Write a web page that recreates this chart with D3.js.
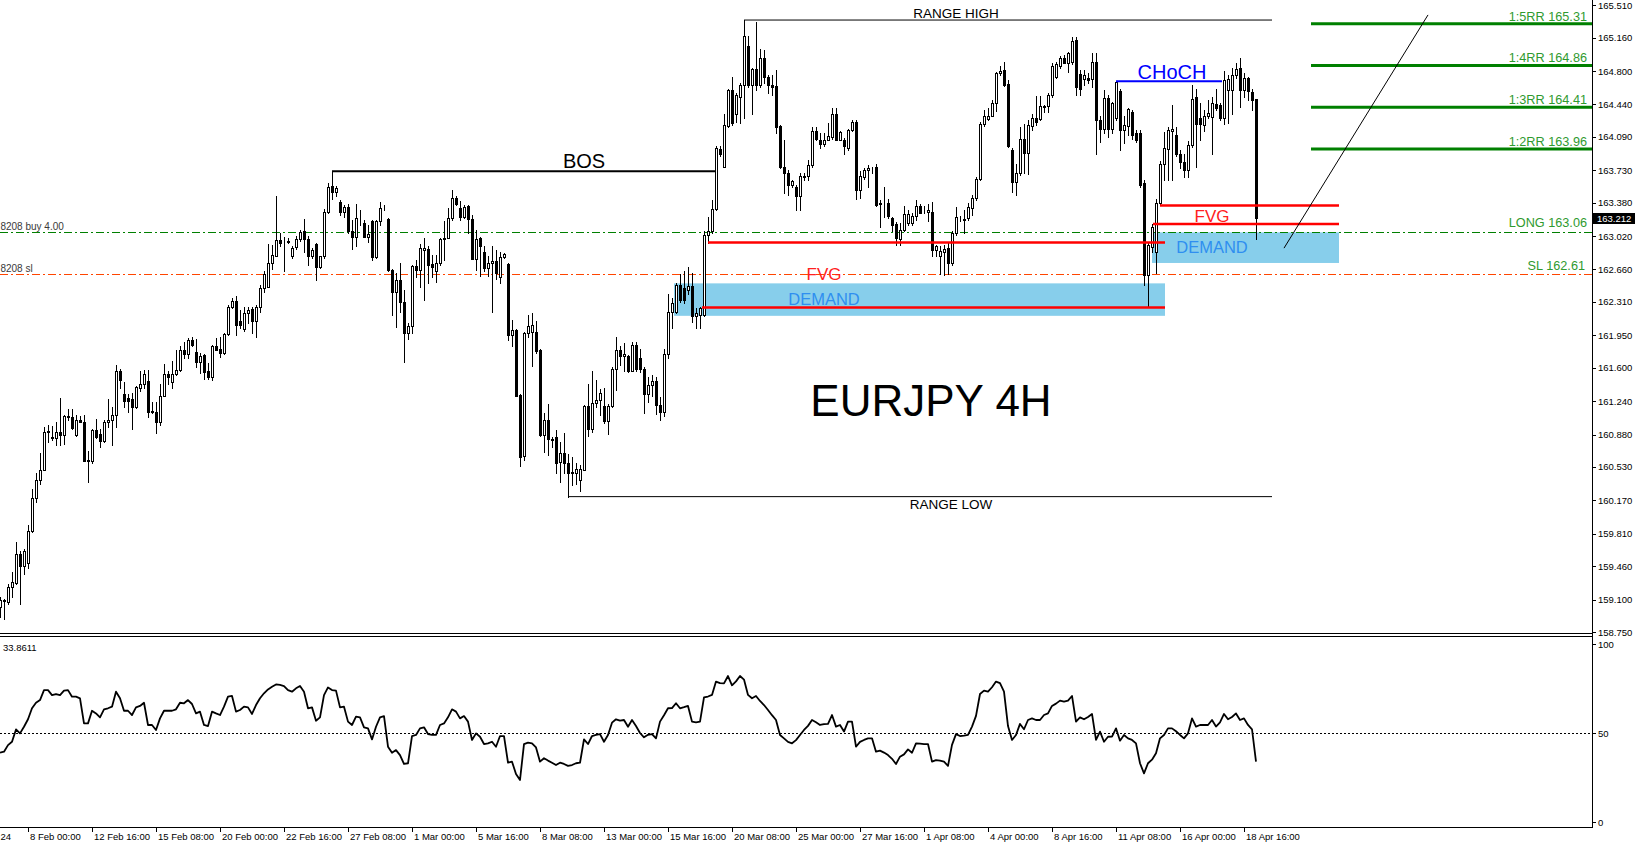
<!DOCTYPE html>
<html>
<head>
<meta charset="utf-8">
<script src="https://cdn.jsdelivr.net/npm/d3@7"></script>
<style>
  html, body { margin: 0; padding: 0; background: #fff; overflow: hidden; }
  svg { display: block; font-family: "Liberation Sans", Arial, sans-serif; }
</style>
</head>
<body>
<svg id="chart" width="1635" height="848"></svg>
<script>
// EURJPY 4H candles, one row per bar: [open, high, low, close]
const candles = [
  [159.02,159.13,158.91,159.09],[159.08,159.11,158.89,159.09],[159.07,159.27,159.05,159.23],[159.23,159.40,159.13,159.29],
  [159.28,159.72,159.27,159.59],[159.59,159.62,159.05,159.46],[159.46,159.65,159.38,159.62],[159.49,159.90,159.44,159.84],
  [159.84,160.29,159.83,160.20],[160.20,160.46,160.15,160.39],[160.39,160.68,160.35,160.50],[160.50,160.96,160.50,160.91],
  [160.91,160.98,160.80,160.92],[160.85,160.97,160.82,160.84],[160.84,161.01,160.77,160.91],[160.91,161.27,160.77,160.87],
  [160.88,161.09,160.78,161.08],[161.08,161.16,161.04,161.07],[161.07,161.16,160.94,160.95],[160.87,161.09,160.86,161.04],
  [161.04,161.08,161.01,161.02],[161.01,161.09,160.59,160.59],[160.59,160.70,160.37,160.60],[160.59,160.94,160.57,160.93],
  [160.93,161.05,160.84,160.85],[160.89,160.94,160.75,160.81],[160.81,161.04,160.80,161.02],[161.01,161.26,160.96,161.04],
  [161.04,161.18,160.77,161.09],[161.09,161.63,160.96,161.56],[161.56,161.59,161.38,161.47],[161.32,161.45,161.18,161.24],
  [161.27,161.32,161.12,161.24],[161.26,161.33,160.94,161.18],[161.18,161.40,161.17,161.39],[161.38,161.56,161.35,161.42],
  [161.42,161.58,161.38,161.53],[161.46,161.58,161.07,161.12],[161.12,161.23,161.11,161.13],[161.12,161.23,160.90,161.02],
  [161.02,161.43,160.98,161.30],[161.30,161.64,161.30,161.53],[161.53,161.56,161.43,161.50],[161.45,161.67,161.38,161.53],
  [161.53,161.79,161.52,161.58],[161.58,161.83,161.57,161.79],[161.79,161.88,161.70,161.75],[161.75,161.92,161.70,161.90],
  [161.90,161.93,161.83,161.85],[161.77,161.91,161.61,161.66],[161.66,161.76,161.54,161.73],[161.74,161.75,161.48,161.55],
  [161.56,161.65,161.48,161.50],[161.50,161.84,161.47,161.83],[161.83,161.92,161.79,161.79],[161.80,161.93,161.72,161.76],
  [161.76,161.98,161.75,161.96],[161.96,162.28,161.95,162.25],[162.25,162.35,162.24,162.32],[162.32,162.37,161.95,162.06],
  [162.10,162.22,162.03,162.06],[162.02,162.26,162.00,162.19],[162.19,162.26,162.08,162.22],[162.23,162.25,161.97,162.10],
  [162.10,162.28,161.93,162.26],[162.26,162.49,162.20,162.46],[162.46,162.64,162.42,162.61],[162.47,162.93,162.47,162.73],
  [162.73,162.92,162.67,162.82],[162.80,163.45,162.80,162.98],[162.98,163.05,162.91,162.95],[162.97,163.01,162.64,162.97],
  [162.97,163.00,162.94,162.96],[162.81,162.91,162.78,162.89],[162.90,163.02,162.88,162.99],[162.99,163.09,162.97,163.06],
  [163.07,163.20,162.85,162.99],[162.99,163.02,162.71,162.80],[162.80,162.89,162.78,162.87],[162.93,162.94,162.55,162.69],
  [162.69,162.81,162.68,162.80],[162.80,163.31,162.78,163.28],[163.28,163.59,163.27,163.55],[163.56,163.72,163.42,163.50],
  [163.50,163.56,163.45,163.54],[163.39,163.41,163.25,163.28],[163.28,163.35,163.23,163.33],[163.33,163.37,163.05,163.07],
  [163.07,163.19,162.88,163.01],[163.01,163.37,162.91,163.21],[163.21,163.30,163.14,163.22],[163.16,163.19,163.01,163.01],
  [163.01,163.14,162.96,163.04],[163.18,163.19,162.76,162.79],[162.79,163.19,162.78,163.18],[163.18,163.39,163.14,163.32],
  [163.33,163.35,163.30,163.33],[163.20,163.21,162.64,162.65],[162.65,162.67,162.17,162.42],[162.42,162.62,162.04,162.55],
  [162.55,162.73,162.20,162.31],[162.31,162.44,161.66,161.98],[161.98,162.08,161.91,162.05],[162.05,162.71,161.97,162.70],
  [162.70,162.76,162.58,162.65],[162.65,162.93,162.47,162.89],[162.87,163.00,162.33,162.89],[162.88,162.91,162.51,162.71],
  [162.72,162.82,162.58,162.69],[162.64,162.82,162.52,162.73],[162.73,163.00,162.71,162.99],[162.99,163.18,162.76,163.00],
  [163.00,163.32,163.00,163.22],[163.22,163.52,163.19,163.43],[163.43,163.45,163.36,163.37],[163.32,163.40,163.19,163.23],
  [163.23,163.35,163.21,163.33],[163.34,163.35,163.05,163.20],[163.20,163.25,162.77,162.77],[162.77,163.09,162.65,162.99],
  [163.00,163.01,162.59,162.91],[162.85,162.91,162.64,162.68],[162.68,162.80,162.59,162.73],[162.73,162.91,162.20,162.75],
  [162.75,162.87,162.56,162.62],[162.58,162.85,162.51,162.79],[162.79,162.84,162.78,162.83],[162.72,162.73,161.90,161.95],
  [161.95,162.11,161.83,162.01],[162.01,162.02,161.29,161.30],[161.31,161.32,160.54,160.64],[160.65,161.99,160.60,161.98],
  [161.98,162.17,161.93,162.05],[161.99,162.19,161.62,162.06],[161.99,162.10,161.76,161.78],[161.79,161.80,160.86,160.87],
  [160.87,161.11,160.69,161.04],[161.04,161.21,160.66,160.83],[160.83,160.85,160.75,160.82],[160.85,160.93,160.46,160.57],
  [160.58,160.80,160.37,160.68],[160.68,160.90,160.47,160.57],[160.57,160.67,160.21,160.46],[160.47,160.64,160.33,160.48],
  [160.46,160.57,160.35,160.51],[160.39,160.55,160.27,160.51],[160.50,161.20,160.50,161.19],[161.19,161.43,160.86,160.94],
  [160.94,161.57,160.91,161.22],[161.22,161.47,161.18,161.25],[161.25,161.37,161.09,161.33],[161.19,161.38,161.00,161.03],
  [161.03,161.21,160.89,161.19],[161.19,161.61,161.18,161.59],[161.59,161.93,161.36,161.79],[161.79,161.83,161.63,161.73],
  [161.73,161.87,161.57,161.75],[161.73,161.74,161.55,161.57],[161.57,161.88,161.56,161.84],[161.85,161.88,161.57,161.59],
  [161.71,161.80,161.55,161.59],[161.59,161.61,161.11,161.32],[161.32,161.50,161.23,161.41],[161.41,161.52,161.30,161.46],
  [161.46,161.50,161.10,161.20],[161.20,161.28,161.04,161.12],[161.12,161.80,161.08,161.75],[161.75,162.40,161.70,162.20],
  [162.20,162.35,162.03,162.30],[162.20,162.51,162.19,162.49],[162.49,162.61,162.31,162.33],[162.46,162.64,162.30,162.33],
  [162.44,162.69,162.40,162.48],[162.48,162.62,162.09,162.16],[162.16,162.24,162.03,162.19],[162.17,162.25,162.03,162.24],
  [162.17,163.08,162.16,163.03],[163.03,163.23,162.95,163.07],[163.07,163.41,163.05,163.31],[163.31,163.99,163.30,163.97],
  [163.96,163.99,163.88,163.90],[163.77,164.34,163.77,164.22],[164.21,164.61,164.20,164.60],[164.60,164.74,164.22,164.24],
  [164.34,164.56,164.25,164.54],[164.52,164.67,164.24,164.65],[164.65,165.35,164.29,165.18],[165.07,165.18,164.63,164.65],
  [164.65,164.83,164.34,164.82],[164.82,165.33,164.60,164.65],[164.65,165.04,164.63,164.94],[164.94,165.03,164.67,164.74],
  [164.74,164.76,164.56,164.65],[164.65,164.76,164.54,164.63],[164.64,164.81,164.13,164.20],[164.21,164.22,163.75,163.76],
  [163.76,164.06,163.48,163.70],[163.70,163.73,163.46,163.57],[163.57,163.63,163.55,163.61],[163.55,163.57,163.30,163.45],
  [163.45,163.70,163.30,163.67],[163.66,163.70,163.63,163.67],[163.67,163.84,163.63,163.79],[163.79,164.20,163.77,164.15],
  [164.15,164.20,164.06,164.07],[164.06,164.13,163.97,164.01],[164.01,164.13,163.99,164.06],[164.06,164.24,164.06,164.10],
  [164.09,164.40,164.07,164.34],[164.34,164.40,164.06,164.06],[164.06,164.15,164.06,164.14],[164.06,164.08,163.90,163.99],
  [163.97,164.17,163.95,164.16],[164.16,164.27,164.15,164.25],[164.25,164.27,163.42,163.52],[163.52,163.72,163.43,163.67],
  [163.66,163.75,163.64,163.73],[163.73,163.79,163.55,163.75],[163.75,163.77,163.70,163.75],[163.76,163.80,163.34,163.36],
  [163.38,163.41,163.12,163.37],[163.37,163.55,163.23,163.37],[163.38,163.42,163.21,163.24],[163.21,163.23,163.07,163.14],
  [163.15,163.17,162.92,163.00],[162.99,163.16,162.92,163.09],[163.09,163.34,163.08,163.26],[163.16,163.30,163.14,163.26],
  [163.16,163.27,163.14,163.24],[163.24,163.41,163.19,163.34],[163.34,163.37,163.27,163.27],[163.28,163.34,163.27,163.28],
  [163.28,163.37,163.18,163.30],[163.28,163.39,162.81,162.87],[162.87,162.92,162.80,162.91],[162.81,162.91,162.61,162.86],
  [162.85,162.92,162.60,162.88],[162.89,162.94,162.61,162.73],[162.73,163.08,162.71,163.05],[163.05,163.33,163.03,163.23],
  [163.21,163.24,163.18,163.22],[163.19,163.30,163.05,163.20],[163.21,163.38,163.19,163.33],[163.32,163.46,163.25,163.43],
  [163.43,163.66,163.41,163.64],[163.64,164.25,163.63,164.23],[164.23,164.38,164.21,164.32],[164.28,164.40,164.27,164.32],
  [164.32,164.49,164.31,164.46],[164.46,164.79,164.37,164.78],[164.78,164.85,164.76,164.80],[164.81,164.90,164.64,164.65],
  [164.66,164.70,163.98,163.99],[163.95,163.97,163.49,163.60],[163.60,163.80,163.46,163.70],[163.70,164.20,163.68,164.07],
  [164.07,164.23,163.70,163.92],[163.92,164.27,163.69,164.22],[164.21,164.34,164.16,164.29],[164.29,164.53,164.22,164.25],
  [164.28,164.53,164.27,164.42],[164.41,164.43,164.36,164.42],[164.42,164.56,164.36,164.54],[164.54,164.89,164.52,164.85],
  [164.74,164.90,164.72,164.88],[164.85,164.96,164.83,164.94],[164.94,164.97,164.89,164.89],[164.89,165.01,164.79,164.99],
  [164.90,165.17,164.88,165.12],[165.13,165.17,164.54,164.63],[164.77,164.81,164.54,164.61],[164.71,164.81,164.65,164.76],
  [164.73,164.78,164.67,164.70],[164.71,164.99,164.63,164.90],[164.90,164.99,163.91,164.27],[164.27,164.31,164.04,164.18],
  [164.18,164.60,164.13,164.51],[164.51,164.54,164.09,164.17],[164.17,164.47,164.13,164.45],[164.29,164.69,164.27,164.68],
  [164.59,164.61,163.95,164.16],[164.16,164.31,164.02,164.22],[164.21,164.40,164.11,164.39],[164.36,164.38,164.07,164.11],
  [164.13,164.16,164.04,164.06],[164.13,164.16,163.55,163.57],[163.59,163.63,162.49,162.60],[162.60,162.95,162.25,162.92],
  [162.90,163.15,162.85,163.12],[162.85,163.42,162.62,163.38],[163.38,163.83,163.35,163.80],[163.80,164.14,163.62,163.97],
  [163.96,164.20,163.62,164.16],[164.15,164.43,163.62,164.18],[164.11,164.20,163.88,163.91],[163.91,163.95,163.75,163.82],
  [163.82,163.91,163.66,163.73],[163.73,164.05,163.66,164.00],[164.00,164.65,163.98,164.50],[164.52,164.61,163.77,164.23],
  [164.29,164.45,164.06,164.23],[164.22,164.38,164.15,164.31],[164.31,164.49,164.29,164.35],[164.30,164.52,163.91,164.45],
  [164.44,164.61,164.38,164.40],[164.43,164.46,164.27,164.29],[164.29,164.80,164.23,164.70],[164.60,164.76,164.24,164.71],
  [164.60,164.83,164.34,164.76],[164.76,164.89,164.72,164.82],[164.83,164.94,164.41,164.60],[164.60,164.78,164.52,164.72],
  [164.72,164.74,164.49,164.59],[164.57,164.61,164.38,164.49],[164.50,164.50,162.99,163.212]
];

// RSI(14) value per bar
const rsi = [
  39.0,39.5,43.2,45.1,52.0,49.8,53.5,57.7,63.9,67.0,68.5,74.1,74.1,71.3,71.9,71.3,73.8,74.1,70.4,70.4,
  69.5,55.4,55.4,62.5,61.0,58.8,63.3,63.9,64.8,73.2,69.5,62.5,62.5,60.1,64.4,65.2,67.0,54.5,54.5,51.7,
  58.2,62.5,62.5,62.5,63.3,67.0,66.7,68.5,66.3,61.0,62.0,54.5,53.9,62.0,61.0,60.1,64.8,70.4,70.8,62.0,
  62.9,64.8,64.4,60.7,65.7,69.5,72.3,74.5,76.0,77.3,77.0,76.4,74.1,73.2,75.1,76.4,73.2,63.9,64.4,56.9,
  58.8,71.3,75.6,74.1,73.8,64.4,64.8,56.4,54.5,59.2,58.8,53.2,52.6,46.4,53.5,58.8,59.5,42.3,38.9,40.4,
  37.6,32.6,33.0,48.3,48.9,52.6,53.2,49.4,48.9,48.9,54.5,55.4,58.8,63.3,62.0,58.2,59.5,56.4,46.1,49.8,
  47.9,43.8,44.2,45.1,42.3,48.3,48.3,33.3,33.9,27.0,23.6,43.8,44.6,44.2,41.9,33.9,35.8,34.5,33.3,32.0,
  33.3,32.6,31.5,32.0,33.0,33.3,46.4,43.8,48.3,48.9,49.4,45.1,48.9,55.8,57.7,56.9,57.3,53.5,57.3,53.9,
  50.0,47.6,49.0,49.4,47.0,56.4,60.0,63.9,64.0,66.7,63.9,64.5,65.2,56.4,56.0,56.4,70.0,70.5,71.4,78.9,
  78.0,77.9,82.0,76.8,79.0,82.0,80.0,71.4,69.5,70.8,68.0,65.7,62.9,60.0,57.3,48.9,47.0,45.0,44.2,46.0,
  48.9,51.7,54.0,57.3,56.0,54.5,55.0,55.1,60.1,53.6,54.5,50.8,56.4,56.4,42.3,45.0,46.1,47.0,47.0,39.5,
  40.1,39.0,37.6,35.5,32.6,36.7,38.0,40.8,38.9,44.2,44.0,43.8,43.8,33.9,34.8,34.5,33.9,31.5,43.3,49.4,
  48.3,48.5,48.9,53.6,59.6,71.9,73.8,73.2,75.7,78.9,78.0,73.2,53.9,46.1,48.9,55.1,52.1,57.3,58.2,57.3,
  57.3,60.1,61.0,65.2,66.5,68.2,67.6,68.2,70.8,56.4,58.8,57.7,59.0,60.7,46.1,50.8,45.1,47.9,48.0,52.6,
  45.7,48.9,47.0,46.1,44.2,33.0,27.3,33.0,35.0,38.6,47.0,48.9,52.6,52.6,51.0,48.9,47.0,49.8,58.2,53.6,
  54.5,54.5,54.5,57.3,53.6,56.0,60.7,57.7,59.0,61.0,57.3,58.2,54.5,52.1,33.86
];

const priceTicks = ["165.510","165.160","164.800","164.440","164.090","163.730","163.380","163.020","162.660","162.310",
  "161.950","161.600","161.240","160.880","160.530","160.170","159.810","159.460","159.100","158.750"];
const rsiTicks = [100, 50, 0];
// first entry is the tail of the year label at the left edge
const timeLabels = ["24","8 Feb 00:00","12 Feb 16:00","15 Feb 08:00","20 Feb 00:00","22 Feb 16:00","27 Feb 08:00",
  "1 Mar 00:00","5 Mar 16:00","8 Mar 08:00","13 Mar 00:00","15 Mar 16:00","20 Mar 08:00","25 Mar 00:00",
  "27 Mar 16:00","1 Apr 08:00","4 Apr 00:00","8 Apr 16:00","11 Apr 08:00","16 Apr 00:00","18 Apr 16:00"];

const rrNames = ["1:5RR", "1:4RR", "1:3RR", "1:2RR"];
const rrLevels = [165.31, 164.86, 164.41, 163.96];
const entryPrice = 163.06, stopPrice = 162.61, lastPrice = 163.212, lastRsi = "33.8611";
const rangeHigh = 165.35, rangeLow = 160.21, bosLevel = 163.72, chochLevel = 164.69;
const fvgHigh = [162.95, 163.35], fvgLow = [162.25, 163.15];
const demandTop = [162.51, 163.06], demandBottom = [162.16, 162.73];
const arrowFrom = [321, 162.89], arrowTo = [357, 165.405];

const svg = d3.select("#chart");
const axisX = 1592;
const x = d3.scaleLinear().domain([0, 398]).range([0, axisX]);
const y = d3.scaleLinear().domain([158.75, 165.51]).range([632, 5.2]);
const yr = d3.scaleLinear().domain([0, 100]).range([822, 644]);
const px = v => Math.round(v) + 0.5;

svg.append("defs").append("clipPath").attr("id", "pclip")
  .append("rect").attr("x", 0).attr("y", 0).attr("width", axisX).attr("height", 633);

const g = svg.append("g").attr("clip-path", "url(#pclip)");

// zones under the candles
const zones = [[168.5, 291.25], [288, 334.75]];
g.selectAll("rect.zone").data(zones).join("rect")
  .attr("x", d => x(d[0])).attr("width", d => x(d[1]) - x(d[0]))
  .attr("y", (d, i) => y(demandTop[i])).attr("height", (d, i) => y(demandBottom[i]) - y(demandTop[i]))
  .attr("fill", "#87ceeb");

// entry and stop lines
g.append("line").attr("x1", 0).attr("x2", axisX).attr("y1", px(y(entryPrice))).attr("y2", px(y(entryPrice)))
  .attr("stroke", "#008000").attr("stroke-dasharray", "8,3,2,3");
g.append("line").attr("x1", 0).attr("x2", axisX).attr("y1", px(y(stopPrice))).attr("y2", px(y(stopPrice)))
  .attr("stroke", "#ff4500").attr("stroke-dasharray", "8,3,2,3");

// candles
const cg = g.append("g").attr("shape-rendering", "crispEdges");
cg.selectAll("line").data(candles).join("line")
  .attr("x1", (d, i) => px(x(i))).attr("x2", (d, i) => px(x(i)))
  .attr("y1", d => Math.round(y(d[1]))).attr("y2", d => Math.round(y(d[2])) + 1)
  .attr("stroke", "#000");
cg.selectAll("rect").data(candles).join("rect")
  .attr("x", (d, i) => Math.round(x(i)) - 0.5).attr("width", 2)
  .attr("y", d => Math.round(y(Math.max(d[0], d[3]))) + 0.5)
  .attr("height", d => Math.round(y(Math.min(d[0], d[3]))) - Math.round(y(Math.max(d[0], d[3]))))
  .attr("fill", d => d[3] >= d[0] ? "#fff" : "#000").attr("stroke", "#000");

// structure lines
function hline(b0, b1, p, color, w) {
  g.append("line").attr("x1", x(b0)).attr("x2", x(b1)).attr("y1", y(p)).attr("y2", y(p))
    .attr("stroke", color).attr("stroke-width", w);
}
hline(186, 318, rangeHigh, "#000", 1);
hline(142, 318, rangeLow, "#000", 1);
hline(83, 178.75, bosLevel, "#000", 2);
hline(279, 305.5, chochLevel, "#0000ff", 2);
hline(177, 291.25, fvgHigh[0], "#ff0000", 2.5);
hline(175.5, 291.25, fvgLow[0], "#ff0000", 2.5);
hline(290, 334.75, fvgHigh[1], "#ff0000", 2.5);
hline(288.25, 334.75, fvgLow[1], "#ff0000", 2.5);
rrLevels.forEach(p => hline(327.75, 398, p, "#008000", 3));

g.append("line").attr("x1", x(arrowFrom[0])).attr("y1", y(arrowFrom[1]))
  .attr("x2", x(arrowTo[0])).attr("y2", y(arrowTo[1])).attr("stroke", "#000").attr("stroke-width", 1);

// annotation text
function label(t, bx, p, dy, size, color, anchor) {
  g.append("text").attr("x", x(bx)).attr("y", y(p) + dy).attr("font-size", size)
    .attr("fill", color).attr("text-anchor", anchor || "middle").text(t);
}
label("RANGE HIGH", 239, rangeHigh, -2, 13.5, "#000");
label("RANGE LOW", 237.75, rangeLow, 12.5, 13.5, "#000");
label("BOS", 146, bosLevel, -3, 20, "#000");
label("CHoCH", 293, chochLevel, -2, 20, "#0000ff");
label("FVG", 206, fvgLow[0], -27, 17, "#ff2020");
label("DEMAND", 206, fvgLow[0], -2, 16.5, "#2f8ff0");
label("FVG", 303, fvgLow[1], -2, 17, "#ff2020");
label("DEMAND", 303, demandBottom[1], -10, 16.5, "#2f8ff0");
rrLevels.forEach((p, i) => label(rrNames[i] + " " + p.toFixed(2), 396.75, p, -3, 12.7, "#2f9a2f", "end"));
label("LONG " + entryPrice.toFixed(2), 396.75, entryPrice, -5, 12.7, "#2f9a2f", "end");
label("SL " + stopPrice.toFixed(2), 396.25, stopPrice, -4, 12.7, "#2f9a2f", "end");
label("8208 buy 4.00", 0.1, entryPrice, -2, 10, "#3a3a3a", "start");
label("8208 sl", 0.1, stopPrice, -2, 10, "#3a3a3a", "start");

svg.append("text").attr("x", 931).attr("y", 416).attr("font-size", 44).attr("text-anchor", "middle")
  .attr("fill", "#000").text("EURJPY 4H");

// RSI panel
svg.append("line").attr("x1", 0).attr("x2", axisX).attr("y1", px(yr(50))).attr("y2", px(yr(50)))
  .attr("stroke", "#000").attr("stroke-dasharray", "2,2");
svg.append("path").datum(rsi)
  .attr("d", d3.line().x((d, i) => x(i)).y(d => yr(d)))
  .attr("fill", "none").attr("stroke", "#000").attr("stroke-width", 1.8).attr("stroke-linejoin", "round");
svg.append("text").attr("x", 3).attr("y", 651).attr("font-size", 9.5).attr("fill", "#000").text(lastRsi);

// frame
const frame = svg.append("g").attr("stroke", "#000").attr("shape-rendering", "crispEdges");
frame.append("line").attr("x1", 0).attr("x2", axisX).attr("y1", 633.5).attr("y2", 633.5);
frame.append("line").attr("x1", 0).attr("x2", axisX).attr("y1", 636.5).attr("y2", 636.5);
frame.append("line").attr("x1", 0).attr("x2", axisX).attr("y1", 827.5).attr("y2", 827.5);
frame.append("line").attr("x1", axisX + 0.5).attr("x2", axisX + 0.5).attr("y1", 0).attr("y2", 828);

// price axis
const pa = svg.append("g");
pa.selectAll("line").data(priceTicks).join("line")
  .attr("x1", axisX).attr("x2", axisX + 4).attr("y1", d => px(y(+d))).attr("y2", d => px(y(+d)))
  .attr("stroke", "#000").attr("shape-rendering", "crispEdges");
pa.selectAll("text").data(priceTicks).join("text")
  .attr("x", axisX + 6).attr("y", d => y(+d) + 3.5).attr("font-size", 9.5).attr("fill", "#000").text(d => d);

svg.append("rect").attr("x", axisX + 1).attr("y", Math.round(y(lastPrice)) - 5).attr("width", 42).attr("height", 11)
  .attr("fill", "#000");
svg.append("text").attr("x", axisX + 5).attr("y", y(lastPrice) + 3.5).attr("font-size", 9.5)
  .attr("fill", "#fff").text(lastPrice.toFixed(3));

// RSI axis
const ra = svg.append("g");
ra.selectAll("line").data(rsiTicks).join("line")
  .attr("x1", axisX).attr("x2", axisX + 4).attr("y1", d => px(yr(d))).attr("y2", d => px(yr(d)))
  .attr("stroke", "#000").attr("shape-rendering", "crispEdges");
ra.selectAll("text").data(rsiTicks).join("text")
  .attr("x", axisX + 6).attr("y", d => yr(d) + 3.5).attr("font-size", 9.5).attr("fill", "#000").text(d => d);

// time axis: one label every 16 bars
const timeBars = timeLabels.map((t, k) => k === 0 ? 0 : 7 + 16 * (k - 1));
const ta = svg.append("g");
ta.selectAll("line").data(timeBars.slice(1)).join("line")
  .attr("x1", d => px(x(d))).attr("x2", d => px(x(d))).attr("y1", 828).attr("y2", 832)
  .attr("stroke", "#000").attr("shape-rendering", "crispEdges");
ta.selectAll("text").data(timeLabels).join("text")
  .attr("x", (d, k) => x(timeBars[k]) + (k === 0 ? 0.5 : 2)).attr("y", 840).attr("font-size", 9.5)
  .attr("fill", "#000").text(d => d);
</script>
</body>
</html>
